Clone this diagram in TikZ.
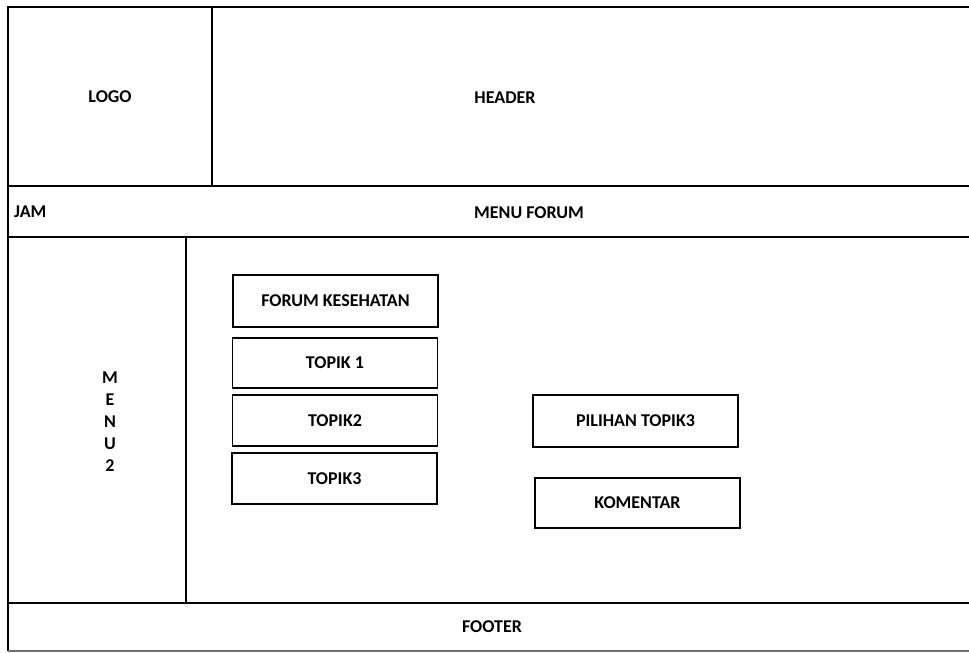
\documentclass[tikz,border=0pt]{standalone}
\usepackage{fontspec}
\setmainfont{Carlito}
\begin{document}
\begin{tikzpicture}[x=1pt,y=-1pt,
  frame/.style={line width=2pt},
  edgeline/.style={line width=1.3pt, black!55},
  box/.style={draw, line width=1.5pt, minimum width=205pt, minimum height=51pt, inner sep=0pt},
  lbl/.style={font=\bfseries\fontsize{18}{20}\selectfont, inner sep=0pt}]
\useasboundingbox (0,0) rectangle (969,653);

% page grid corners
\coordinate (tl) at (8,7);
\coordinate (tr) at (969,7);
\coordinate (bl) at (8,651);
\coordinate (br) at (969,651);
\coordinate (hl) at (8,186);
\coordinate (hr) at (969,186);
\coordinate (ml) at (8,237);
\coordinate (mr) at (969,237);
\coordinate (fl) at (8,603);
\coordinate (fr) at (969,603);
\coordinate (logoT) at (212,7);
\coordinate (logoB) at (212,186);
\coordinate (menuT) at (186,237);
\coordinate (menuB) at (186,603);

% frame of the page layout
\draw[frame] (tr) -- (tl) -- (bl);
\draw[edgeline] (bl) -- (br);
\draw[frame] (hl) -- (hr);
\draw[frame] (ml) -- (mr);
\draw[frame] (fl) -- (fr);
\draw[frame] (logoT) -- (logoB);
\draw[frame] (menuT) -- (menuB);

% region labels
\node[lbl] (logo) at (110,97) {LOGO};
\node[lbl] (header) at (505,98) {HEADER};
\node[lbl, anchor=west] (jam) at (14,212) {JAM};
\node[lbl] (menuforum) at (529,213) {MENU FORUM};
\node[lbl, align=center, font=\bfseries\fontsize{18}{22}\selectfont] (menu2) at (110,422) {M\\E\\N\\U\\2};
\node[lbl] (footer) at (492,627) {FOOTER};

% content boxes
\node[box, lbl, minimum height=52pt] (forum) at (335.5,301) {FORUM KESEHATAN};
\node[box, lbl, minimum height=50pt] (topik1) at (335,363) {TOPIK 1};
\node[box, lbl] (topik2) at (335,420.5) {TOPIK2};
\node[box, lbl] (topik3) at (334.5,478.5) {TOPIK3};
\node[box, lbl, minimum height=52pt] (pilihan) at (635.5,421) {PILIHAN TOPIK3};
\node[box, lbl, minimum height=50pt] (komentar) at (637.5,503) {KOMENTAR};
\end{tikzpicture}
\end{document}
